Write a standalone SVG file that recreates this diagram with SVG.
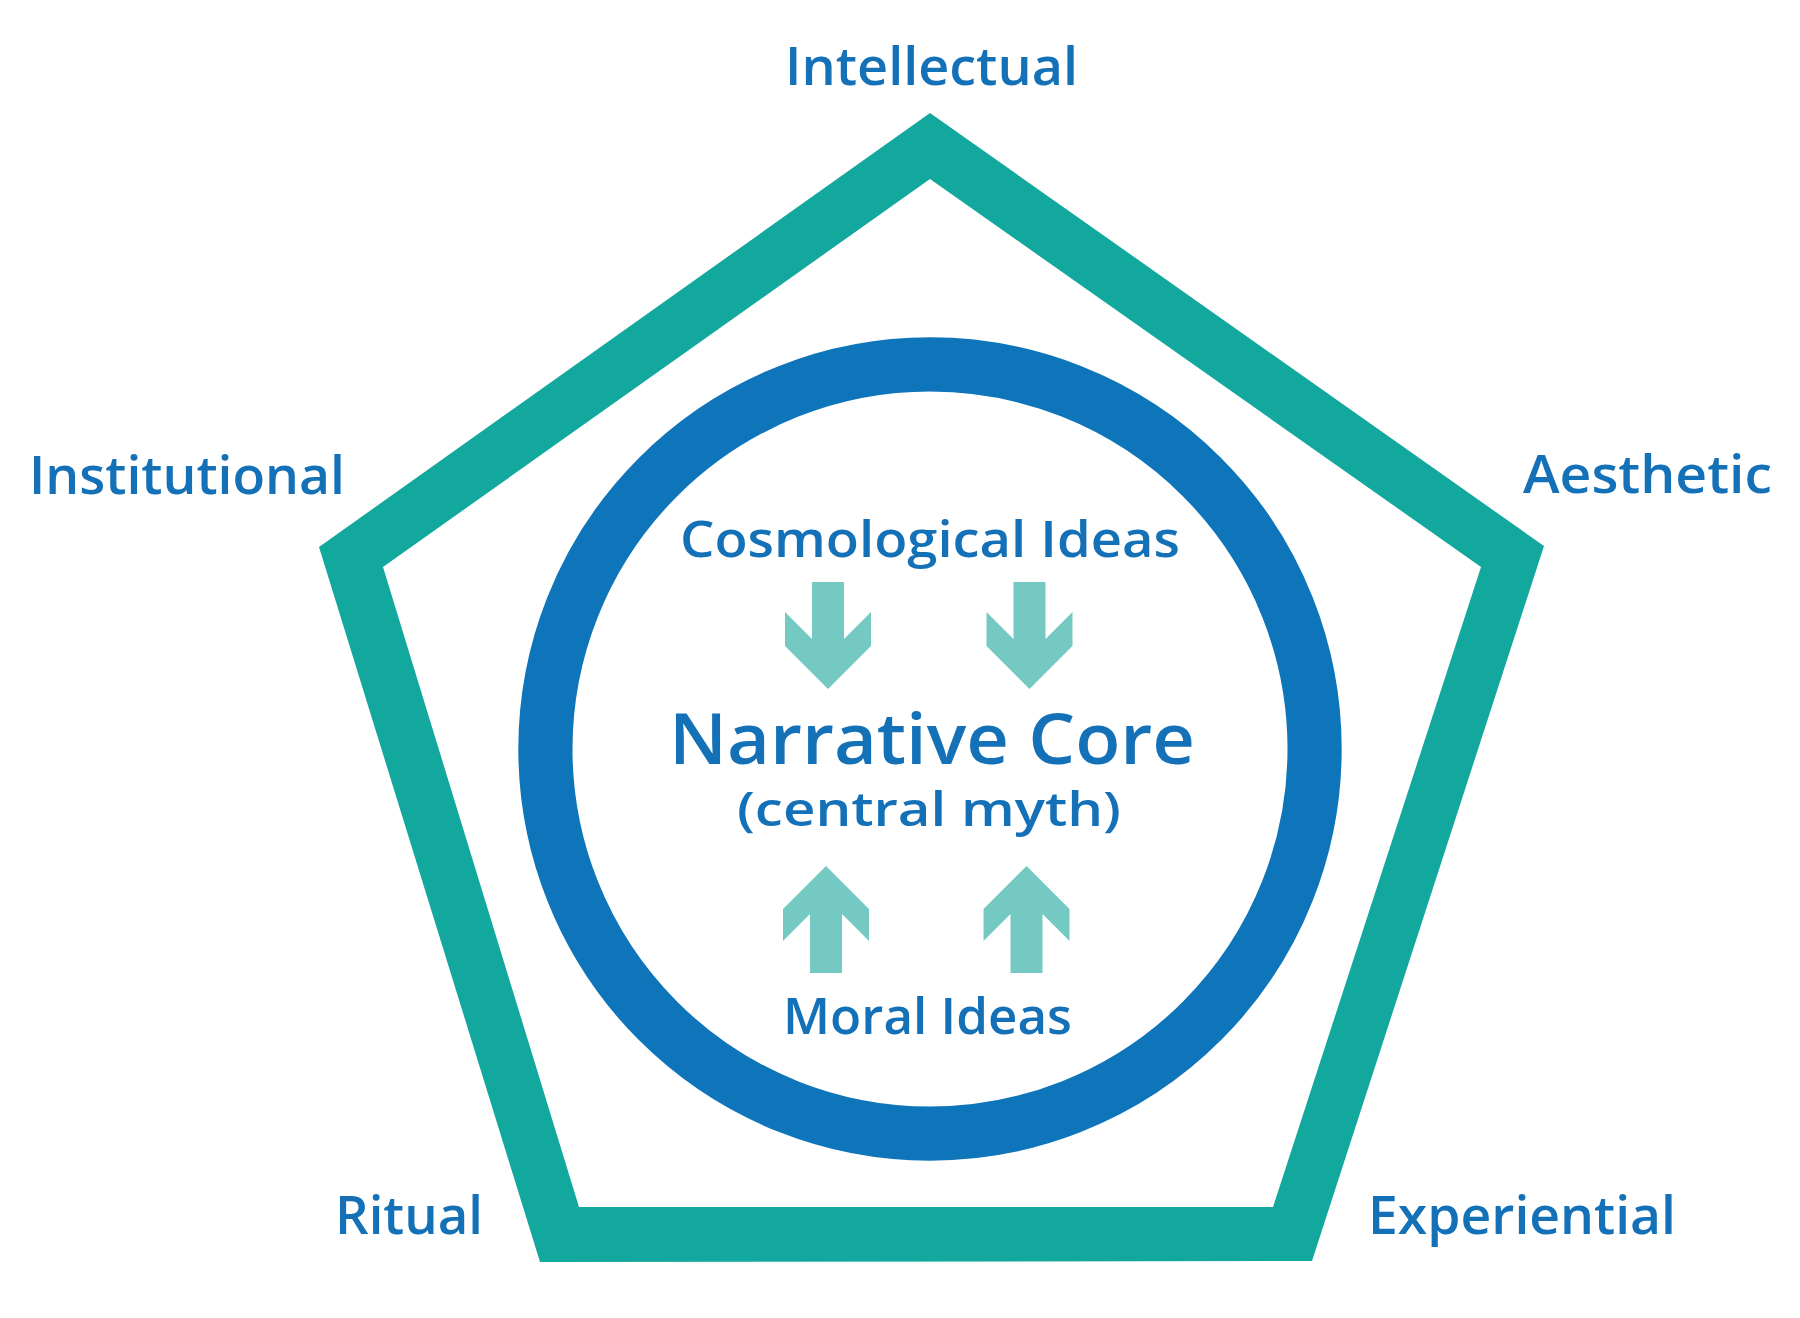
<svg xmlns="http://www.w3.org/2000/svg" width="1800" height="1318" viewBox="0 0 1800 1318">
<defs>
<style>
.lbl{font-family:"Open Sans","Liberation Sans",sans-serif;font-weight:600;fill:#1471B8;text-anchor:middle}
.dim{font-size:53px}
.idea{font-size:51px}
.core{font-size:71px}
.sub{font-size:47px}
.arrow{fill:#74CAC2}
</style>
<polygon id="downArrow" points="-16,0 16,0 16,57 43,30 43,64 0,107 -43,64 -43,30 -16,57"/>
<polygon id="upArrow" points="0,0 43,43 43,75 16,48 16,107 -16,107 -16,48 -43,75 -43,43"/>
</defs>
<rect width="1800" height="1318" fill="#ffffff"/>

<g id="pentagon">
<path fill="#13A89E" fill-rule="evenodd" d="M930,113 L1544,546 L1312,1261 L540,1262 L319,547 Z M930,179 L383,567 L579,1207 L1273,1207 L1481,567 Z"/>
</g>

<g id="core-ring">
<circle cx="930" cy="749" r="384.6" fill="none" stroke="#0E75BA" stroke-width="54.2"/>
</g>

<g id="label-intellectual"><text class="lbl dim" x="931.5" y="85" textLength="293" lengthAdjust="spacingAndGlyphs">Intellectual</text></g>
<g id="label-institutional"><text class="lbl dim" x="187" y="494" textLength="316" lengthAdjust="spacingAndGlyphs">Institutional</text></g>
<g id="label-aesthetic"><text class="lbl dim" x="1647.5" y="493" textLength="249" lengthAdjust="spacingAndGlyphs">Aesthetic</text></g>
<g id="label-ritual"><text class="lbl dim" x="409" y="1234" textLength="148" lengthAdjust="spacingAndGlyphs">Ritual</text></g>
<g id="label-experiential"><text class="lbl dim" x="1522" y="1234" textLength="308" lengthAdjust="spacingAndGlyphs">Experiential</text></g>

<g id="cosmological-ideas"><text class="lbl idea" x="930" y="557" textLength="500" lengthAdjust="spacingAndGlyphs">Cosmological Ideas</text></g>
<g id="narrative-core">
<text class="lbl core" x="932" y="764" textLength="526" lengthAdjust="spacingAndGlyphs">Narrative Core</text>
<text class="lbl sub" x="929" y="826" textLength="384" lengthAdjust="spacingAndGlyphs">(central myth)</text>
</g>
<g id="moral-ideas"><text class="lbl idea" x="927.5" y="1034" textLength="289" lengthAdjust="spacingAndGlyphs">Moral Ideas</text></g>

<g id="connectors" class="arrow">
<use href="#downArrow" x="828" y="582"/>
<use href="#downArrow" x="1029.5" y="582"/>
<use href="#upArrow" x="826" y="866"/>
<use href="#upArrow" x="1026.5" y="866"/>
</g>
</svg>
